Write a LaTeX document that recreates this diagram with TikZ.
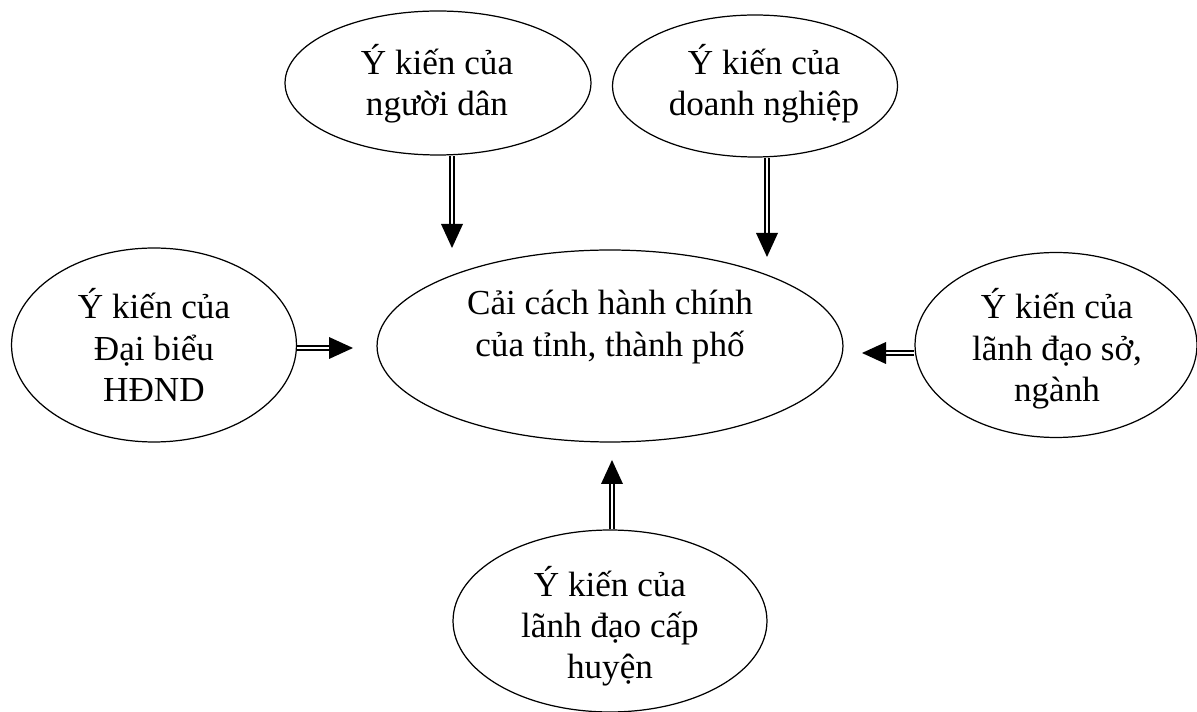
\documentclass[tikz,border=0pt]{standalone}
\usepackage{fontspec}
\setmainfont{Liberation Serif}
\usetikzlibrary{shapes.geometric}
\begin{document}
\begin{tikzpicture}[x=0.02cm,y=-0.02cm,
  oval/.style={draw, ellipse, line width=0.7pt, inner sep=0pt},
  lbl/.style={align=center, font=\fontsize{20}{23.5}\selectfont},
  shaft/.style={draw, double, line width=1.2pt, double distance=1.2pt},
  head/.style={fill=black}]
\useasboundingbox (0,0) rectangle (1197,712);
% ellipses
\node[oval, minimum width=6.12cm, minimum height=2.88cm] (nd) at (438,83) {};
\node[lbl] (tnd) at (437,84) {Ý kiến của\\người dân};
\node[oval, minimum width=5.7cm, minimum height=2.84cm] (dn) at (755,86) {};
\node[lbl] (tdn) at (764,84) {Ý kiến của\\doanh nghiệp};
\node[oval, minimum width=5.7cm, minimum height=3.88cm] (db) at (154,345) {};
\node[lbl] (tdb) at (154,345) {Ý kiến của\\Đại biểu\\HĐND};
\node[oval, minimum width=9.32cm, minimum height=3.84cm] (cc) at (610,346) {};
\node[lbl] (tcc) at (610,327) {Cải cách hành chính\\của tỉnh, thành phố};
\node[oval, minimum width=5.64cm, minimum height=3.7cm] (ld) at (1056,345) {};
\node[lbl] (tld) at (1057,349) {Ý kiến của\\lãnh đạo sở,\\ngành};
\node[oval, minimum width=6.28cm, minimum height=3.64cm] (cp) at (610,621) {};
\node[lbl] (tcp) at (610,626) {Ý kiến của\\lãnh đạo cấp\\huyện};
% arrow coordinates
\coordinate (b1) at (452,226); \coordinate (t1) at (452,248);
\coordinate (b2) at (767,235); \coordinate (t2) at (767,257);
\coordinate (b3) at (331,348); \coordinate (t3) at (353,348);
\coordinate (b4) at (884,353); \coordinate (t4) at (862,353);
\coordinate (b5) at (612,482); \coordinate (t5) at (612,460);
% shafts
\draw[shaft] (t1 |- nd.south) -- (b1);
\draw[shaft] (t2 |- dn.south) -- (b2);
\draw[shaft] (db.east |- t3) -- (b3);
\draw[shaft] (ld.west |- t4) -- (b4);
\draw[shaft] (t5 |- cp.north) -- (b5);
% heads
\fill[head] (t1) -- ++(-11,-24) -- ++(22,0) -- cycle;
\fill[head] (t2) -- ++(-11,-24) -- ++(22,0) -- cycle;
\fill[head] (t3) -- ++(-24,-11) -- ++(0,22) -- cycle;
\fill[head] (t4) -- ++(24,-11) -- ++(0,22) -- cycle;
\fill[head] (t5) -- ++(-11,24) -- ++(22,0) -- cycle;
\end{tikzpicture}
\end{document}
